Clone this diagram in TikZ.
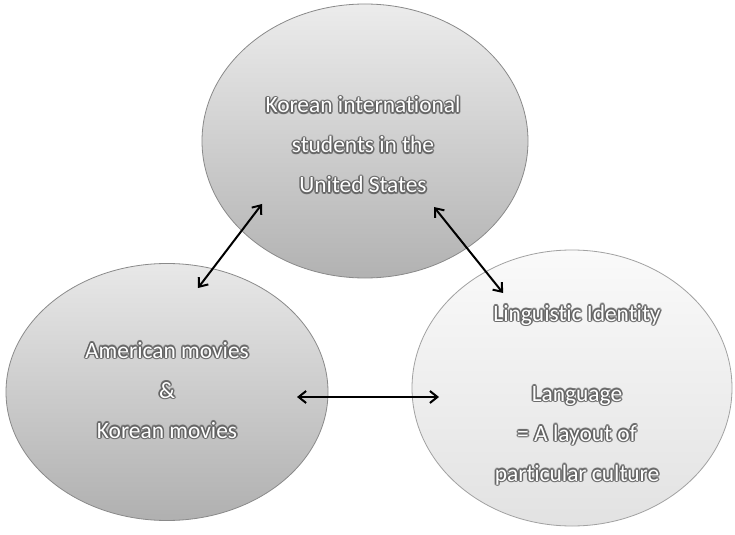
\documentclass[tikz,border=0pt]{standalone}
\usepackage{fontspec}
\setmainfont{Carlito}[Ligatures=NoCommon]
\usetikzlibrary{shapes.geometric,arrows.meta,calc}
\definecolor{glowc}{HTML}{606060}
\definecolor{edgec}{HTML}{8A8A8A}
\definecolor{topA}{HTML}{ECECEC}
\definecolor{topB}{HTML}{B2B2B2}
\definecolor{leftA}{HTML}{E8E8E8}
\definecolor{leftB}{HTML}{B0B0B0}
\definecolor{rightA}{HTML}{FAFAFA}
\definecolor{rightB}{HTML}{E2E2E2}
\tikzset{
  bubble/.style={ellipse, draw=edgec, line width=0.8bp, inner sep=0pt},
  gtxt/.style={font=\fontsize{23.5}{28}\selectfont, anchor=base, inner sep=0pt},
  link/.style={line width=2bp, {Straight Barb[length=7.5bp,width=12bp]}-{Straight Barb[length=7.5bp,width=12bp]}},
}
\newcommand{\glowline}[3]{%
  \foreach \a in {0,30,...,330}{\node[gtxt, text=glowc, opacity=0.55] at ($(#2)+(\a:1.6bp)$) {#3};}%
  \node[gtxt, text=white] (#1) at (#2) {#3};}
\begin{document}
\begin{tikzpicture}[x=1bp,y=-1bp]
\useasboundingbox[fill=white] (0,0) rectangle (735,535);
% ellipses
\node[bubble, minimum width=326bp, minimum height=274bp, top color=topA, bottom color=topB] (usa) at (365,141) {};
\node[bubble, minimum width=322bp, minimum height=257bp, top color=leftA, bottom color=leftB] (movies) at (167,392) {};
\node[bubble, draw=edgec!80, minimum width=320bp, minimum height=276bp, top color=rightA, bottom color=rightB] (ling) at (572,388) {};
% texts
\glowline{u1}{363,113}{Korean international}
\glowline{u2}{363,153}{students in the}
\glowline{u3}{363,193}{United States}
\glowline{m1}{167,358}{American movies}
\glowline{m2}{167,398}{\&}
\glowline{m3}{167,438}{Korean movies}
\glowline{l1}{577,321}{Linguistic Identity}
\glowline{l2}{577,401}{Language}
\glowline{l3}{577,441}{= A layout of}
\glowline{l4}{577,481}{particular culture}
% connectors
\coordinate (a1) at (262,204);
\coordinate (a2) at (198,288);
\coordinate (b1) at (434,207);
\coordinate (b2) at (503,293);
\coordinate (c1) at (297,397);
\coordinate (c2) at (439,397);
\draw[link] (a1) -- (a2);
\draw[link] (b1) -- (b2);
\draw[link] (c1) -- (c2);
\end{tikzpicture}
\end{document}
